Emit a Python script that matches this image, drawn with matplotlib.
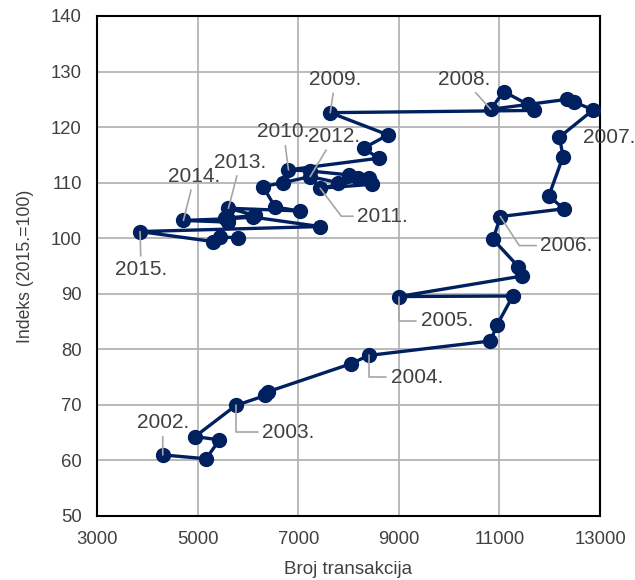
import matplotlib
matplotlib.use("Agg")
import matplotlib.pyplot as plt

# ---- data ----
broj_transakcija = [
    4307, 5169, 5434, 4950,
    5760, 6349, 6409, 8048,
    8399, 10821, 10954, 11267,
    8996, 11455, 11375, 10874,
    11020, 12281, 11982, 12266,
    12194, 12864, 12492, 12347,
    10827, 11086, 11563, 11683,
    7637, 8785, 8299, 8598,
    6807, 7239, 8002, 8399,
    7438, 8466, 8194, 7796,
    7239, 6700, 6300, 6542, 7040,
    5613, 6144, 5547, 5610,
    4718, 5600, 6100, 7438,
    3856, 5309, 5448, 5812,
]
indeks = [
    61.0, 60.3, 63.7, 64.3,
    69.9, 71.7, 72.4, 77.4,
    78.9, 81.5, 84.4, 89.6,
    89.5, 93.2, 94.9, 99.8,
    103.9, 105.3, 107.6, 114.7,
    118.2, 123.1, 124.5, 125.0,
    123.2, 126.4, 124.1, 123.0,
    122.6, 118.6, 116.2, 114.4,
    112.3, 112.1, 111.4, 110.8,
    109.0, 109.7, 110.9, 110.0,
    111.1, 110.0, 109.3, 105.6, 104.9,
    105.4, 104.1, 103.6, 102.9,
    103.2, 103.5, 103.8, 102.1,
    101.2, 99.4, 100.2, 100.1,
]
label_texts = ["2002.", "2003.", "2004.", "2005.", "2006.", "2007.", "2008.",
               "2009.", "2010.", "2011.", "2012.", "2013.", "2014.", "2015."]
label_index = [0, 4, 8, 12, 16, 20, 24, 28, 32, 36, 40, 45, 49, 53]

x_ticks = [3000, 5000, 7000, 9000, 11000, 13000]
y_ticks = [50, 60, 70, 80, 90, 100, 110, 120, 130, 140]

# ---- label placement styles: (dx, dy in pixels, ha, connection) ----
label_style = {
    "2002.": (0, 32, "center", "straight"),
    "2003.": (26, -27, "left", "angle,angleA=0,angleB=90,rad=0"),
    "2004.": (22, -22, "left", "angle,angleA=0,angleB=90,rad=0"),
    "2005.": (22, -24, "left", "angle,angleA=0,angleB=90,rad=0"),
    "2006.": (40, -29, "left", "angle,angleA=0,angleB=-57,rad=0"),
    "2007.": (24, 0, "left", None),
    "2008.": (-27, 30, "center", "straight"),
    "2009.": (5, 33, "center", "straight"),
    "2010.": (-5, 38, "center", "straight"),
    "2011.": (37, -28, "left", "angle,angleA=0,angleB=-53,rad=0"),
    "2012.": (24, 40, "center", "straight"),
    "2013.": (12, 46, "center", "straight"),
    "2014.": (11, 44, "center", "straight"),
    "2015.": (1, -38, "center", "straight"),
}

plt.rcParams['font.family'] = ['Liberation Sans', 'DejaVu Sans']

fig = plt.figure(figsize=(6.35, 5.8), dpi=100)
ax = fig.add_axes([97 / 635, 1 - 516 / 580, 503 / 635, 500 / 580])

navy = "#002060"
text_col = "#404040"

ax.plot(broj_transakcija, indeks, color=navy, lw=2.4, marker="o",
        markersize=10, markerfacecolor=navy, markeredgecolor=navy, zorder=3)

for txt, idx in zip(label_texts, label_index):
    dx, dy, ha, conn = label_style[txt]
    xy = (broj_transakcija[idx], indeks[idx])
    if conn is None:
        ax.annotate(txt, xy=xy, xytext=(dx, dy), textcoords="offset pixels",
                    ha=ha, va="center", fontsize=15, color=text_col, zorder=5,
                    annotation_clip=False)
    else:
        ap = dict(arrowstyle="-", color="#a6a6a6", lw=1.2,
                  shrinkA=1, shrinkB=0)
        if conn != "straight":
            ap["connectionstyle"] = conn
        ax.annotate(txt, xy=xy, xytext=(dx, dy), textcoords="offset pixels",
                    ha=ha, va="center", fontsize=15, color=text_col, zorder=5,
                    arrowprops=ap, annotation_clip=False)

ax.set_xlim(3000, 13000)
ax.set_ylim(50, 140)
ax.set_xticks(x_ticks)
ax.set_yticks(y_ticks)
ax.grid(True, color="#b4b4b4", lw=1.3)
ax.set_axisbelow(True)
ax.tick_params(length=0, labelsize=13.3, labelcolor=text_col, pad=11)
for s in ax.spines.values():
    s.set_color("black")
    s.set_linewidth(1.5)

ax.set_xlabel("Broj transakcija", fontsize=13.5, color=text_col, labelpad=9)
ax.set_ylabel("Indeks (2015.=100)", fontsize=12.7, color=text_col, labelpad=12)

fig.savefig("out.png", dpi=100)
